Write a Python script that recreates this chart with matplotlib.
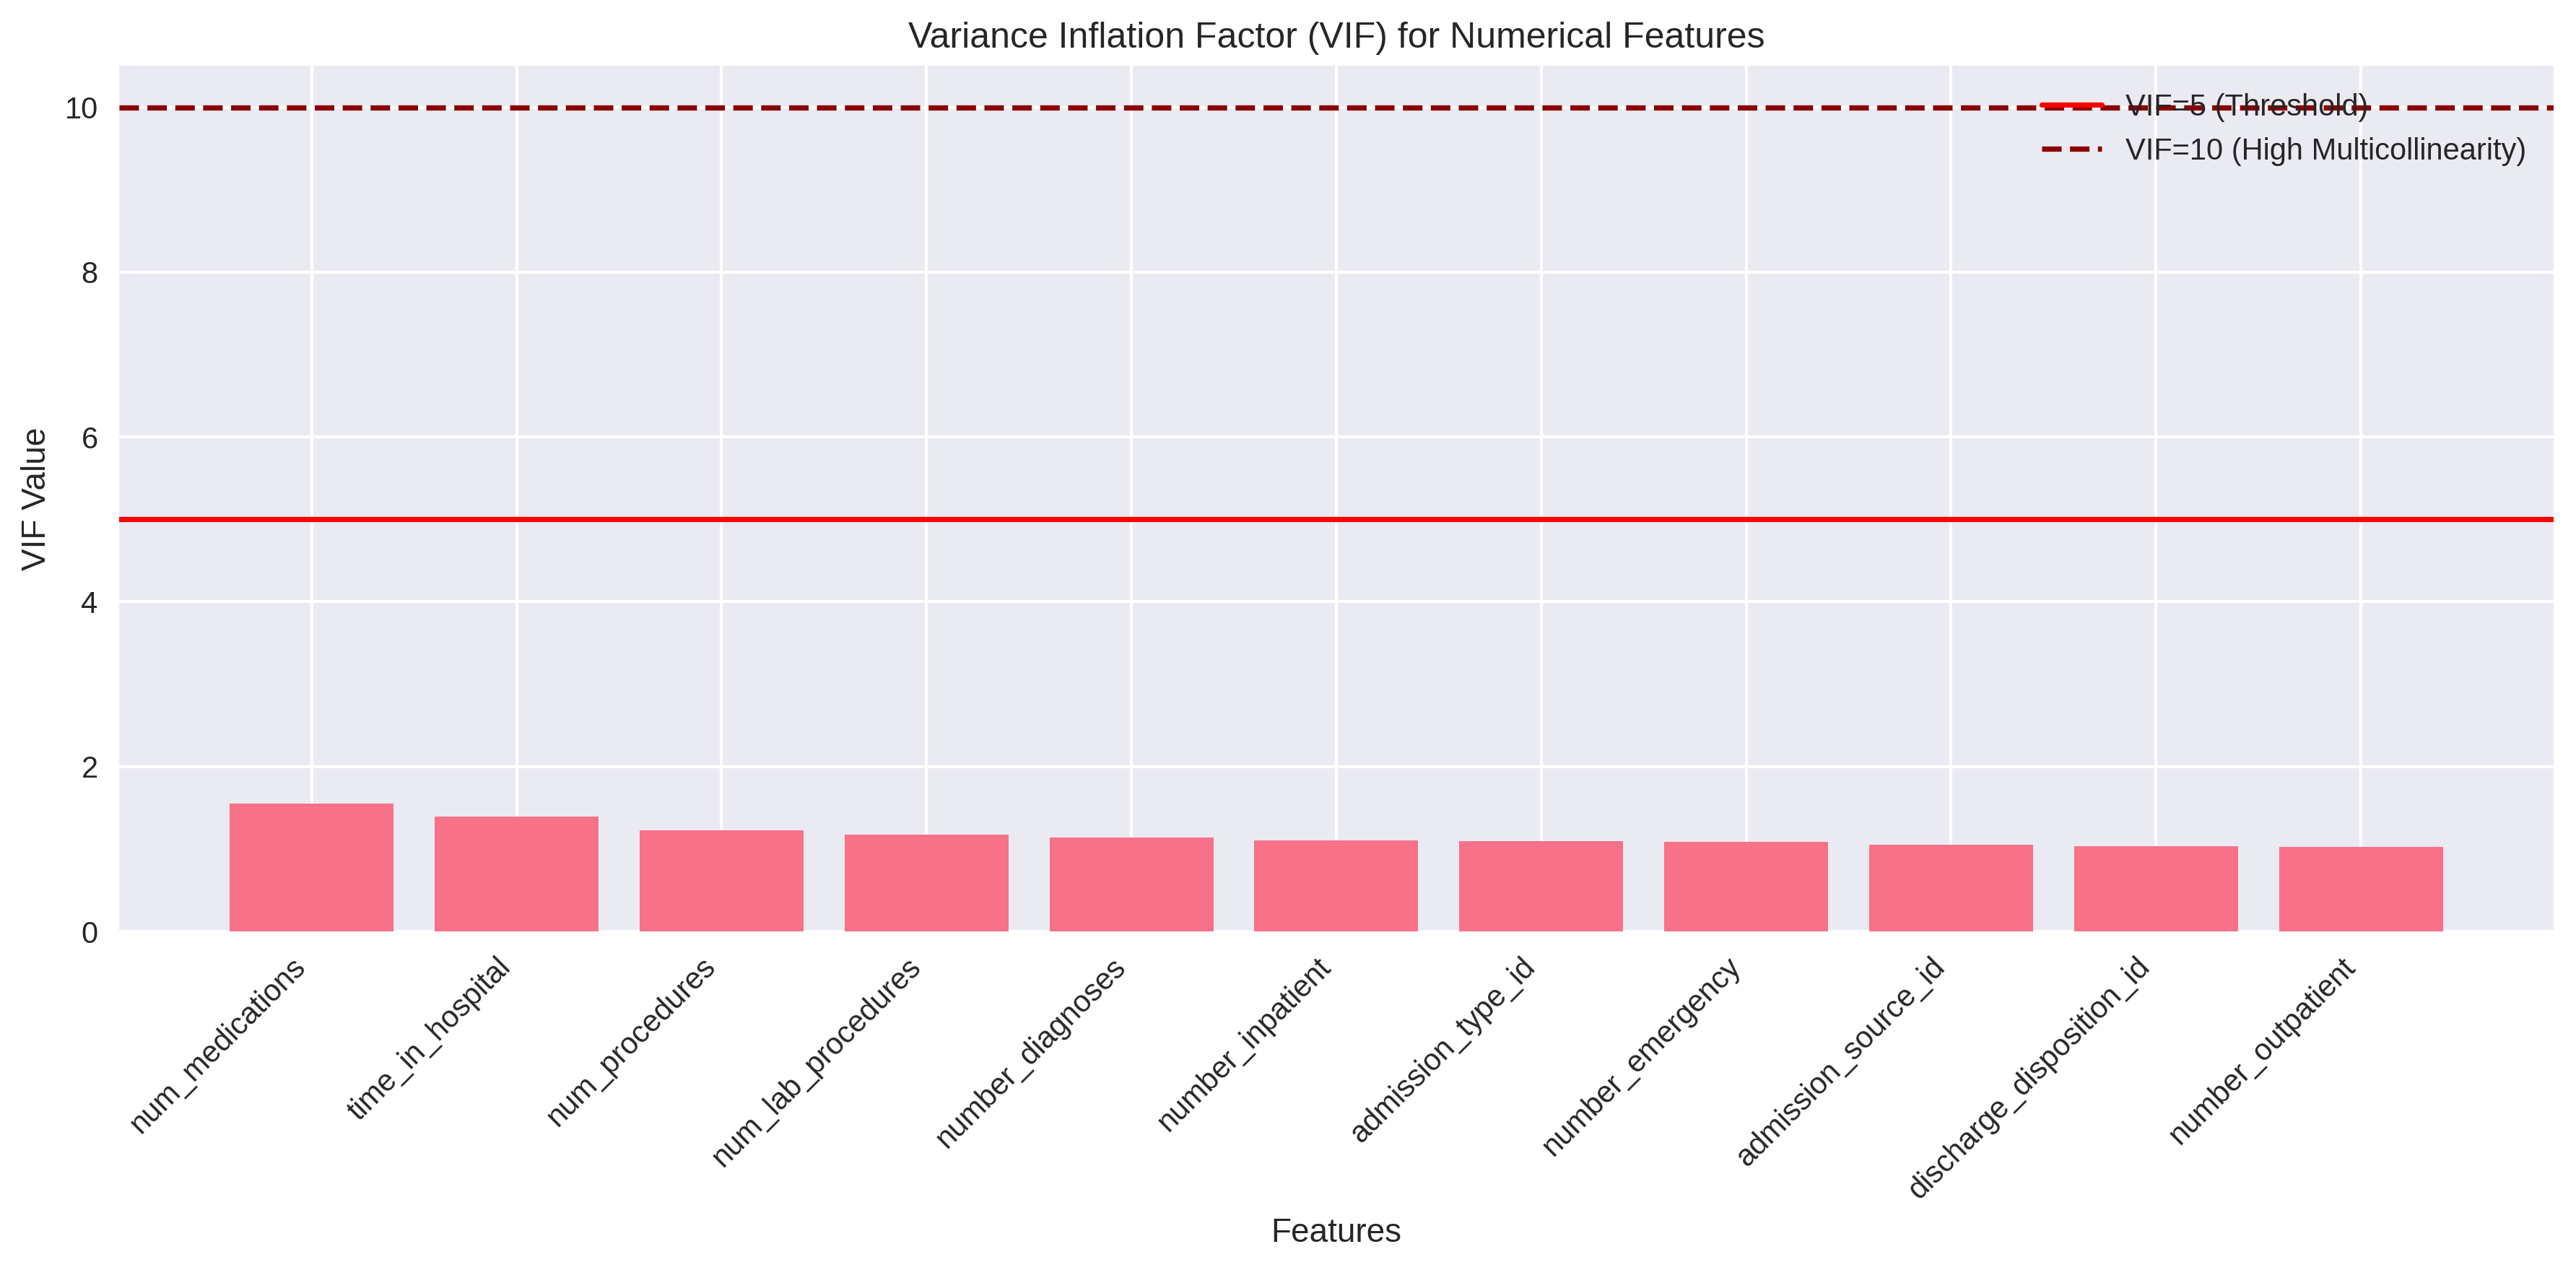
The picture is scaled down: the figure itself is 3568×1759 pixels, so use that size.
import matplotlib.pyplot as plt
import seaborn as sns

plt.style.use("seaborn-v0_8")
sns.set_palette("husl")
plt.rcParams["font.family"] = ["Liberation Sans", "DejaVu Sans"]

features = ["num_medications", "time_in_hospital", "num_procedures", "num_lab_procedures",
            "number_diagnoses", "number_inpatient", "admission_type_id", "number_emergency",
            "admission_source_id", "discharge_disposition_id", "number_outpatient"]
vif = [1.55, 1.39, 1.228, 1.175, 1.137, 1.102, 1.094, 1.085, 1.050, 1.032, 1.023]

fig, ax = plt.subplots(figsize=(3568 / 300, 1759 / 300), dpi=300)
ax.bar(range(len(features)), vif)
ax.axhline(y=5, color="red", linestyle="-", label="VIF=5 (Threshold)")
ax.axhline(y=10, color="darkred", linestyle="--", label="VIF=10 (High Multicollinearity)")
ax.set_xticks(range(len(features)))
ax.set_xticklabels(features, rotation=45, ha="right")
ax.set_xlabel("Features")
ax.set_ylabel("VIF Value")
ax.set_title("Variance Inflation Factor (VIF) for Numerical Features")
ax.legend(loc="upper right")

plt.subplots_adjust(left=0.0462, right=0.9913, top=0.948, bottom=0.2666)
plt.savefig("out.png", dpi=300)
